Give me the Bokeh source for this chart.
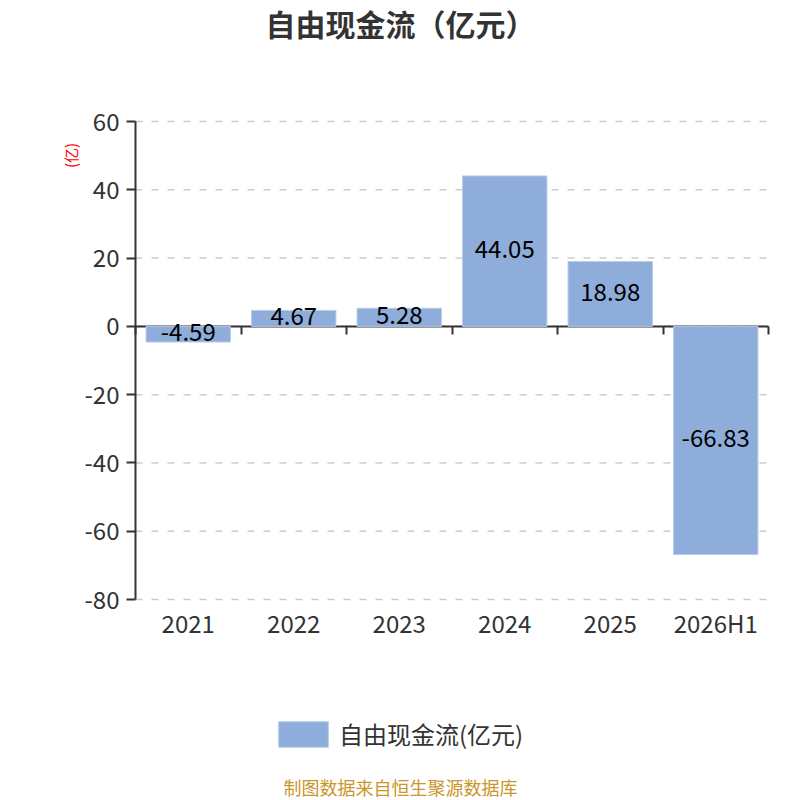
from math import pi
from bokeh.plotting import figure
from bokeh.models import (Range1d, FixedTicker, LinearAxis, ColumnDataSource, Label,
                          Legend, LegendItem, CustomJSTickFormatter)
from bokeh.embed import file_html
from bokeh.resources import INLINE
from bokeh.core.properties import value

categories = ["2021", "2022", "2023", "2024", "2025", "2026H1"]
values = [-4.59, 4.67, 5.28, 44.05, 18.98, -66.83]
y_ticks = [-80, -60, -40, -20, 0, 20, 40, 60]
title_text = "自由现金流（亿元）"
series_name = "自由现金流(亿元)"
unit_text = "(亿)"
source_text = "制图数据来自恒生聚源数据库"

FONT = "Noto Sans CJK SC"
BAR = "#8eaddb"
TXT = "#333333"

# page layout (pixels): canvas and plotting area
W, H = 800, 800
PX_L, PX_R, PX_T, PX_B = 135, 768, 121, 599

n = len(categories)
ymin, ymax = min(y_ticks), max(y_ticks)
sx = (PX_R - PX_L) / n
sy = (PX_B - PX_T) / (ymax - ymin)
x_range = Range1d(0 - PX_L / sx, n + (W - PX_R) / sx)
y_range = Range1d(ymin - (H - PX_B) / sy, ymax + PX_T / sy)

src = ColumnDataSource(dict(
    x=[i + 0.5 for i in range(n)],
    top=values,
    mid=[v / 2 for v in values],
    label=[f"{v:.2f}" for v in values],
))
grid_src = ColumnDataSource(dict(
    x0=[0] * len(y_ticks), x1=[n] * len(y_ticks), y=y_ticks,
))

p = figure(width=W, height=H, output_backend="svg", toolbar_location=None,
           x_range=x_range, y_range=y_range, x_axis_type=None, y_axis_type=None,
           min_border=0)
p.outline_line_color = None

# dashed horizontal grid lines across the plotting area
p.segment(x0="x0", y0="y", x1="x1", y1="y", source=grid_src, line_color="#cccccc",
          line_width=1.5, line_dash="7 9", level="underlay")

# zero line axis with boundary ticks
za = LinearAxis(fixed_location=0, bounds=(0, n),
                ticker=FixedTicker(ticks=list(range(n + 1))),
                formatter=CustomJSTickFormatter(code="return ''"),
                axis_line_color=TXT, axis_line_width=2,
                major_tick_line_color=TXT, major_tick_line_width=2,
                major_tick_out=8, major_tick_in=0, minor_tick_line_color=None,
                level="underlay")
p.add_layout(za, "below")

# category labels along the bottom of the plotting area
xa = LinearAxis(fixed_location=ymin, bounds=(0, n),
                ticker=FixedTicker(ticks=[i + 0.5 for i in range(n)]),
                formatter=CustomJSTickFormatter(args=dict(cats=categories),
                                                code="return cats[Math.floor(tick)] ?? ''"),
                axis_line_color=None, major_tick_line_color=None,
                major_tick_out=0, major_tick_in=0, minor_tick_line_color=None,
                major_label_text_font=FONT, major_label_text_font_size="24px",
                major_label_text_color=TXT, major_label_standoff=5)
p.add_layout(xa, "below")

ya = LinearAxis(fixed_location=0, bounds=(ymin, ymax),
                ticker=FixedTicker(ticks=y_ticks),
                formatter=CustomJSTickFormatter(code="return tick.toFixed(0)"),
                axis_line_color=TXT, axis_line_width=2,
                major_tick_line_color=TXT, major_tick_line_width=2,
                major_tick_out=9, major_tick_in=0, minor_tick_line_color=None,
                major_label_text_font=FONT, major_label_text_font_size="24px",
                major_label_text_color=TXT, major_label_standoff=7)
p.add_layout(ya, "left")

bars = p.vbar(x="x", top="top", bottom=0, width=0.8, source=src,
              fill_color=BAR, line_color="#b9cbe9", line_width=1)
p.text(x="x", y="mid", text="label", source=src, text_align="center",
       text_baseline="middle", text_font=value(FONT), text_font_size="24px",
       text_color="black", y_offset=-2)

legend = Legend(items=[LegendItem(label=series_name, renderers=[bars])],
                location=(272, H - 751), orientation="horizontal",
                glyph_width=62, glyph_height=32, label_standoff=5,
                label_text_font=FONT, label_text_font_size="24px",
                label_text_color=TXT, padding=0, margin=0, spacing=0,
                border_line_color=None, background_fill_alpha=0)
p.add_layout(legend)

p.add_layout(Label(x=W / 2, y=H - 22, x_units="screen", y_units="screen",
                   text=title_text, text_align="center", text_baseline="middle",
                   text_font=FONT, text_font_size="30px", text_font_style="bold",
                   text_color=TXT))
p.add_layout(Label(x=70, y=H - 155, x_units="screen", y_units="screen", text=unit_text,
                   angle=pi / 2, text_align="center", text_baseline="middle",
                   text_font=FONT, text_font_size="15px", text_color="red"))
p.add_layout(Label(x=W / 2, y=H - 786, x_units="screen", y_units="screen",
                   text=source_text, text_align="center", text_baseline="middle",
                   text_font=FONT, text_font_size="18px", text_color="#c9962b"))

open("out.html", "w").write(file_html(p, INLINE))
